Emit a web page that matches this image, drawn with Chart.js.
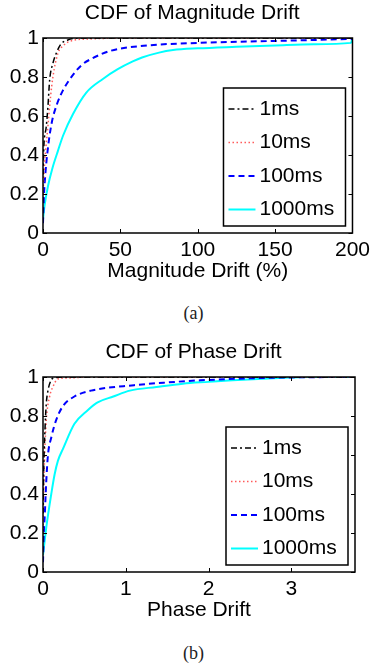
<!DOCTYPE html>
<html lang="en">
<head>
  <meta charset="UTF-8">
  <title>CDF of Drift</title>
  <style>
    body { margin: 0; background: #fff; width: 375px; height: 666px; position: relative; overflow: hidden; }
    canvas { position: absolute; left: 0; }
    .caption { position: absolute; left: 12px; width: 363px; text-align: center; font-family: 'Liberation Serif', 'Times New Roman', serif; font-size: 18px; color: #222; line-height: 20px; }
  </style>
  <script src="https://cdn.jsdelivr.net/npm/chart.js"></script>
</head>
<body>
  <canvas id="magChart" width="375" height="290" style="top:0"></canvas>
  <div class="caption" style="top:303px">(a)</div>
  <canvas id="phaseChart" width="375" height="290" style="top:339px"></canvas>
  <div class="caption" style="top:643px">(b)</div>
  <script>
    const seriesNames = ['1ms', '10ms', '100ms', '1000ms'];
    const yTicks = [0, 0.2, 0.4, 0.6, 0.8, 1];

    // (a) magnitude drift, %
    const magXTicks = [0, 50, 100, 150, 200];
    const mag1msX = [0, 0.6, 2.1, 3.2, 4.3, 6.4, 9, 11.7, 16, 25, 200];
    const mag1msY = [0.3, 0.45, 0.545, 0.65, 0.785, 0.87, 0.93, 0.97, 0.99, 1, 1];
    const mag10msX = [0, 1, 3.2, 4.9, 6.4, 9.6, 13, 18, 30, 60, 200];
    const mag10msY = [0.2, 0.35, 0.55, 0.7, 0.8, 0.92, 0.96, 0.985, 0.995, 1, 1];
    const mag100msX = [0, 0.6, 1.5, 2.8, 5.5, 9, 12.8, 17, 24.8, 32, 44, 65, 100, 150, 200];
    const mag100msY = [0.05, 0.19, 0.3, 0.41, 0.56, 0.66, 0.73, 0.785, 0.86, 0.896, 0.935, 0.96, 0.975, 0.985, 0.995];
    const mag1000msX = [0, 1, 3.2, 6, 9.6, 13, 19.4, 28, 38.7, 48.3, 58, 64, 75, 84, 100, 125, 150, 175, 199, 200];
    const mag1000msY = [0.07, 0.14, 0.24, 0.33, 0.42, 0.5, 0.61, 0.72, 0.79, 0.84, 0.88, 0.9, 0.925, 0.938, 0.947, 0.955, 0.962, 0.968, 0.975, 1];

    // (b) phase drift
    const phaseXTicks = [0, 1, 2, 3];
    const phase1msX = [0, 0.01, 0.02, 0.04, 0.06, 0.1, 0.15, 0.25, 3.77];
    const phase1msY = [0.3, 0.55, 0.69, 0.865, 0.93, 0.985, 0.997, 1, 1];
    const phase10msX = [0, 0.01, 0.02, 0.04, 0.08, 0.12, 0.18, 0.3, 0.6, 3.77];
    const phase10msY = [0.2, 0.45, 0.6, 0.78, 0.9, 0.95, 0.99, 0.995, 1, 1];
    const phase100msX = [0, 0.01, 0.02, 0.04, 0.06, 0.1, 0.16, 0.24, 0.38, 0.58, 1.1, 1.5, 1.9, 2.5, 3, 3.77];
    const phase100msY = [0.05, 0.2, 0.28, 0.47, 0.6, 0.69, 0.78, 0.85, 0.9, 0.93, 0.958, 0.972, 0.983, 0.993, 0.998, 1];
    const phase1000msX = [0, 0.04, 0.1, 0.14, 0.18, 0.24, 0.38, 0.54, 0.66, 0.85, 1.05, 1.37, 1.69, 2.0, 2.29, 2.6, 2.98, 3.2, 3.77];
    const phase1000msY = [0.086, 0.23, 0.4, 0.5, 0.57, 0.63, 0.76, 0.83, 0.87, 0.9, 0.93, 0.949, 0.966, 0.975, 0.983, 0.99, 0.997, 1, 1];

    const styles = [
      { color: '#000000', dash: [6, 3, 2, 3], width: 1.5 },
      { color: '#ff5a5a', dash: [1.5, 2.5], width: 1.5 },
      { color: '#0000ff', dash: [6, 4], width: 2 },
      { color: '#00ffff', dash: [], width: 2 }
    ];

    Chart.defaults.font.family = "'Liberation Sans', Arial, sans-serif";
    Chart.defaults.font.size = 21;
    Chart.defaults.color = '#000';
    const textFont = "21px 'Liberation Sans', Arial, sans-serif";

    function toPoints(xs, ys) {
      return xs.map((x, i) => ({ x: x, y: ys[i] }));
    }

    // title, box around plot area, inward ticks on all four sides, legend in the lower right
    const frameAndLegend = {
      id: 'frameAndLegend',
      afterDraw(chart, args, opts) {
        const ctx = chart.ctx;
        const a = chart.chartArea;
        const xs = chart.scales.x, ys = chart.scales.y;
        ctx.save();
        ctx.font = textFont;
        ctx.fillStyle = '#000';
        ctx.textAlign = 'center';
        ctx.textBaseline = 'middle';
        ctx.fillText(opts.title, (a.left + a.right) / 2 - 5.5, a.top - 25);

        ctx.strokeStyle = '#000';
        ctx.lineWidth = 1.5;
        ctx.setLineDash([]);
        ctx.strokeRect(a.left, a.top, a.right - a.left, a.bottom - a.top);
        ctx.lineWidth = 1;
        const tl = 4;
        ctx.beginPath();
        xs.ticks.forEach(t => {
          const px = Math.round(xs.getPixelForValue(t.value)) + 0.5;
          ctx.moveTo(px, a.bottom); ctx.lineTo(px, a.bottom - tl);
          ctx.moveTo(px, a.top); ctx.lineTo(px, a.top + tl);
        });
        ys.ticks.forEach(t => {
          const py = Math.round(ys.getPixelForValue(t.value)) + 0.5;
          ctx.moveTo(a.left, py); ctx.lineTo(a.left + tl, py);
          ctx.moveTo(a.right, py); ctx.lineTo(a.right - tl, py);
        });
        ctx.stroke();

        // legend box
        const bw = 122, bh = 138;
        const bx = a.right - 7 - bw, by = a.bottom - 7 - bh;
        ctx.fillStyle = '#fff';
        ctx.fillRect(bx, by, bw, bh);
        ctx.lineWidth = 1.5;
        ctx.strokeRect(bx, by, bw, bh);
        ctx.textAlign = 'left';
        chart.data.datasets.forEach((ds, i) => {
          const cy = by + 21 + i * 33.5;
          ctx.strokeStyle = ds.borderColor;
          ctx.lineWidth = ds.borderWidth;
          ctx.setLineDash(ds.borderDash);
          ctx.beginPath();
          ctx.moveTo(bx + 5, cy); ctx.lineTo(bx + 32, cy);
          ctx.stroke();
          ctx.fillStyle = '#000';
          ctx.fillText(ds.label, bx + 36, cy);
        });
        ctx.restore();
      }
    };

    function makeChart(id, titleText, xLabel, xMax, xTicks, seriesX, seriesY) {
      const datasets = seriesNames.map((name, i) => ({
        label: name,
        data: toPoints(seriesX[i], seriesY[i]),
        showLine: true,
        borderColor: styles[i].color,
        borderDash: styles[i].dash,
        borderWidth: styles[i].width,
        pointRadius: 0,
        cubicInterpolationMode: 'monotone',
        fill: false
      }));
      return new Chart(document.getElementById(id), {
        type: 'scatter',
        data: { datasets: datasets },
        options: {
          responsive: false,
          animation: false,
          layout: { padding: { left: 9, right: 20, top: 38, bottom: 0 } },
          plugins: {
            legend: { display: false },
            tooltip: { enabled: false },
            title: { display: false },
            frameAndLegend: { title: titleText }
          },
          scales: {
            x: {
              type: 'linear',
              min: 0,
              max: xMax,
              grid: { display: false, drawTicks: false },
              border: { display: false },
              ticks: { padding: 5, maxRotation: 0, callback: v => String(v) },
              afterBuildTicks: s => { s.ticks = xTicks.map(v => ({ value: v })); },
              afterFit: s => { s.height = 57; },
              title: { display: true, text: xLabel, font: { size: 21 }, padding: { top: 0, bottom: 6 } }
            },
            y: {
              type: 'linear',
              min: 0,
              max: 1,
              grid: { display: false, drawTicks: false },
              border: { display: false },
              ticks: { padding: 4, callback: v => String(v) },
              afterBuildTicks: s => { s.ticks = yTicks.map(v => ({ value: v })); },
              afterFit: s => { s.width = 34; }
            }
          }
        },
        plugins: [frameAndLegend]
      });
    }

    makeChart('magChart', 'CDF of Magnitude Drift', 'Magnitude Drift (%)', 200, magXTicks,
      [mag1msX, mag10msX, mag100msX, mag1000msX],
      [mag1msY, mag10msY, mag100msY, mag1000msY]);

    makeChart('phaseChart', 'CDF of Phase Drift', 'Phase Drift', 3.77, phaseXTicks,
      [phase1msX, phase10msX, phase100msX, phase1000msX],
      [phase1msY, phase10msY, phase100msY, phase1000msY]);
  </script>
</body>
</html>
